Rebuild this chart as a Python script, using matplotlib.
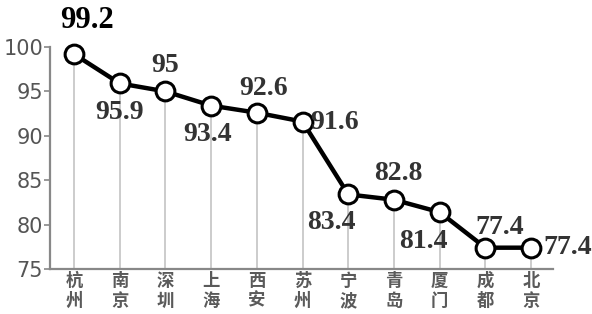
import matplotlib
matplotlib.use("Agg")
import matplotlib.pyplot as plt
import matplotlib.font_manager as fm

cities = ["杭州", "南京", "深圳", "上海", "西安", "苏州", "宁波", "青岛", "厦门", "成都", "北京"]
values = [99.2, 95.9, 95, 93.4, 92.6, 91.6, 83.4, 82.8, 81.4, 77.4, 77.4]
labels = ["99.2", "95.9", "95", "93.4", "92.6", "91.6", "83.4", "82.8", "81.4", "77.4", "77.4"]
yticks = [75, 80, 85, 90, 95, 100]

# label offsets in pixels (dx, dy) relative to each point
offsets = [(13, 34), (0, -29), (0, 26), (-4, -29), (7, 24), (32, -1), (-17, -28), (4, 26), (-16, -29), (14, 20), (37, 0)]

names = {f.name for f in fm.fontManager.ttflist}
narrow = "Liberation Sans Narrow" if "Liberation Sans Narrow" in names else "DejaVu Sans"

fig = plt.figure(figsize=(5.92, 3.14), dpi=100)
ax = fig.add_axes([50/592, 1-269/314, (553-50)/592, (269-47)/314])
x = list(range(len(cities)))

for xi, v in zip(x, values):
    ax.plot([xi, xi], [75, v], color="#cccccc", lw=1.4, zorder=1, clip_on=False)

ax.plot(x, values, color="black", lw=3.2, marker="o", ms=13.5,
        mfc="white", mec="black", mew=2.2, zorder=3, clip_on=False)

px = 72 / 100
for i, (xi, v, lab) in enumerate(zip(x, values, labels)):
    dx, dy = offsets[i]
    big = i == 0
    ax.annotate(lab, (xi, v), xytext=(dx*px, dy*px), textcoords="offset points",
                ha="center", va="center", family="Liberation Serif", weight="bold",
                fontsize=22 if big else 20, color="black" if big else "#333333",
                zorder=4, annotation_clip=False)

ax.set_xlim(-0.525, 10.48)
ax.set_ylim(75, 100)
ax.set_yticks(yticks)
ax.set_yticklabels([str(t) for t in yticks], family=narrow, fontsize=15, color="#555555")
ax.set_xticks(x)
ax.set_xticklabels(["\n".join(c) for c in cities], family=["Noto Sans CJK SC", "DejaVu Sans"],
                   fontsize=12.5, color="#5a5a5a", weight="bold", linespacing=1.15)
ax.tick_params(axis="y", length=4, width=1.2, color="#888888", pad=1)
ax.tick_params(axis="x", length=0, pad=2)
for s in ["top", "right"]:
    ax.spines[s].set_visible(False)
for s in ["left", "bottom"]:
    ax.spines[s].set_color("#888888")
    ax.spines[s].set_linewidth(1.6)

fig.savefig("out.png", dpi=100)
